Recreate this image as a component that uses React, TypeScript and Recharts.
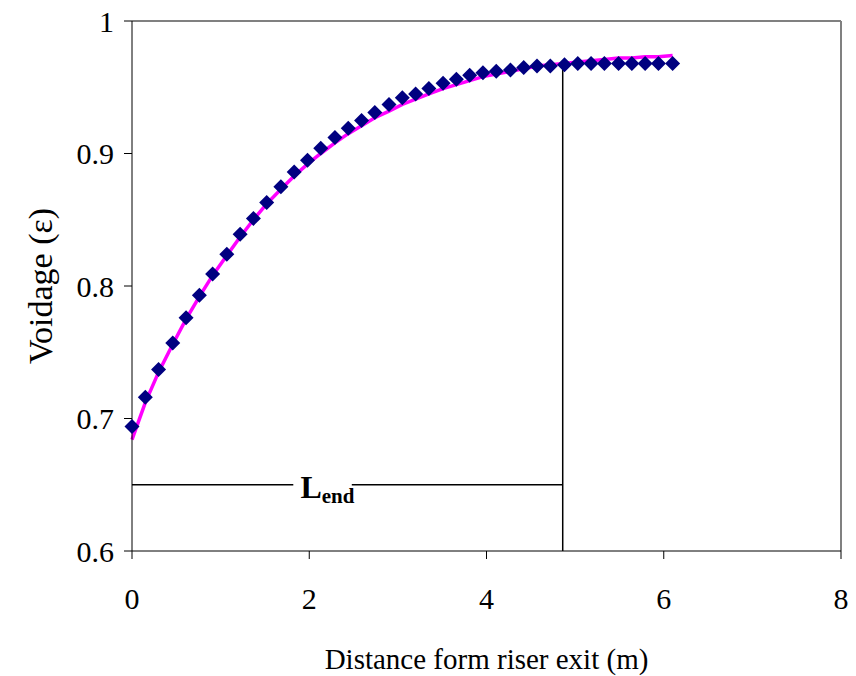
import { ComposedChart, Line, Scatter, XAxis, YAxis, ReferenceLine, ReferenceDot, Label } from 'recharts';

// distance from riser exit (m)
const distance = [
  0, 0.15, 0.3, 0.46, 0.61, 0.76, 0.91, 1.07, 1.22, 1.37, 1.52, 1.68, 1.83, 1.98, 2.13, 2.29, 2.44, 2.59, 2.74, 2.9,
  3.05, 3.2, 3.35, 3.51, 3.66, 3.81, 3.96, 4.11, 4.27, 4.42, 4.57, 4.72, 4.88, 5.03, 5.18, 5.33, 5.49, 5.64, 5.79,
  5.94, 6.1,
];

// measured voidage
const voidage = [
  0.694, 0.716, 0.737, 0.757, 0.776, 0.793, 0.809, 0.824, 0.839, 0.851, 0.863, 0.875, 0.886, 0.895, 0.904, 0.912,
  0.919, 0.925, 0.931, 0.937, 0.942, 0.945, 0.949, 0.953, 0.956, 0.959, 0.961, 0.962, 0.963, 0.965, 0.966, 0.966,
  0.967, 0.968, 0.968, 0.968, 0.968, 0.968, 0.968, 0.968, 0.968,
];

// fitted curve
const fitted = [
  0.684, 0.712, 0.735, 0.756, 0.775, 0.792, 0.808, 0.823, 0.837, 0.85, 0.862, 0.873, 0.883, 0.892, 0.9, 0.908,
  0.915, 0.921, 0.927, 0.932, 0.937, 0.941, 0.945, 0.949, 0.952, 0.955, 0.958, 0.96, 0.962, 0.964, 0.966, 0.967,
  0.968, 0.969, 0.97, 0.971, 0.972, 0.972, 0.973, 0.973, 0.974,
];

const xTicks = [0, 2, 4, 6, 8];
const yTicks = [0.6, 0.7, 0.8, 0.9, 1];

// L_end annotation
const lEnd = 4.86;
const lEndLevel = 0.65;
const lEndTop = 0.967;
const labelGap = [1.82, 2.48];

const font = 'Liberation Serif, Times New Roman, serif';

const rows = distance.map((x, i) => ({ x, voidage: voidage[i], fit: fitted[i] }));

const Diamond = (props: any) => {
  const { cx, cy } = props;
  const r = 7.5;
  return <polygon points={`${cx},${cy - r} ${cx + r},${cy} ${cx},${cy + r} ${cx - r},${cy}`} fill="#000080" />;
};

const LEndLabel = (props: any) => {
  const { cx, cy } = props;
  return (
    <text x={cx} y={cy + 13} fontFamily={font} fontWeight="bold" fill="#000">
      <tspan fontSize={32}>L</tspan>
      <tspan fontSize={21} dy={5}>end</tspan>
    </text>
  );
};

export default function App() {
  return (
    <div style={{ position: 'absolute', left: 0, top: 0, background: '#fff' }}>
      <ComposedChart width={856} height={676} data={rows} margin={{ top: 21, right: 15, bottom: 0, left: 0 }}>
        <XAxis
          dataKey="x"
          type="number"
          domain={[0, 8]}
          ticks={xTicks}
          height={125}
          tickSize={8}
          tickMargin={29}
          stroke="#000"
          tick={{ fontSize: 30, fill: '#000', fontFamily: font }}
        >
          <Label
            value="Distance form riser exit (m)"
            position="insideBottom"
            offset={7}
            style={{ fontSize: 29, fill: '#000', fontFamily: font }}
          />
        </XAxis>
        <YAxis
          type="number"
          domain={[0.6, 1]}
          ticks={yTicks}
          width={132}
          tickSize={8}
          tickMargin={10}
          stroke="#000"
          tick={{ fontSize: 30, fill: '#000', fontFamily: font }}
        >
          <Label
            value="Voidage (ε)"
            angle={-90}
            position="insideLeft"
            offset={40}
            style={{ fontSize: 34, fill: '#000', fontFamily: font, textAnchor: 'middle' }}
          />
        </YAxis>
        <ReferenceLine y={1} stroke="#808080" strokeWidth={2} />
        <ReferenceLine x={8} stroke="#808080" strokeWidth={2} />
        <ReferenceLine
          segment={[{ x: 0, y: lEndLevel }, { x: labelGap[0], y: lEndLevel }]}
          stroke="#000"
          strokeWidth={1.5}
        />
        <ReferenceLine
          segment={[{ x: labelGap[1], y: lEndLevel }, { x: lEnd, y: lEndLevel }]}
          stroke="#000"
          strokeWidth={1.5}
        />
        <ReferenceLine
          segment={[{ x: lEnd, y: 0.6 }, { x: lEnd, y: lEndTop }]}
          stroke="#000"
          strokeWidth={1.5}
        />
        <ReferenceDot x={labelGap[0] + 0.08} y={lEndLevel} shape={LEndLabel} />
        <Line dataKey="fit" type="linear" stroke="#ff00ff" strokeWidth={3.5} dot={false} isAnimationActive={false} />
        <Scatter data={rows} dataKey="voidage" shape={Diamond} isAnimationActive={false} />
      </ComposedChart>
    </div>
  );
}
